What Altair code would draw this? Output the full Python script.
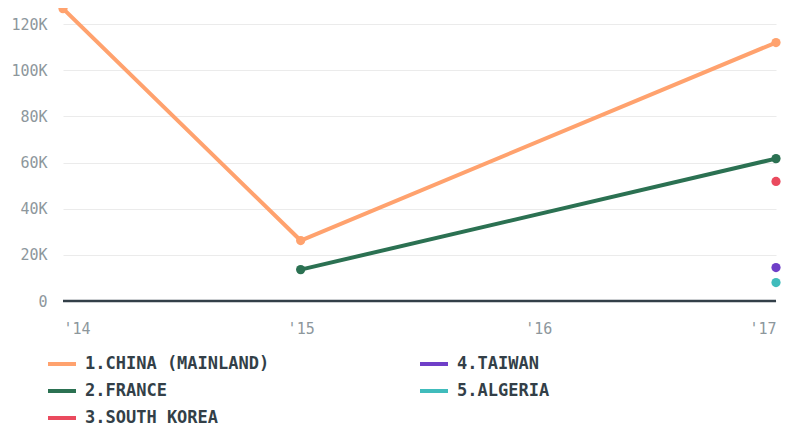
import altair as alt
import pandas as pd

# Data
series_names = ["1.CHINA (MAINLAND)", "2.FRANCE", "3.SOUTH KOREA", "4.TAIWAN", "5.ALGERIA"]
series_colors = ["#ffa26e", "#2b7152", "#ea4a5e", "#6f3fc8", "#40bcbc"]

china_years = [2014, 2015, 2017]
china_values = [126700, 26200, 112000]
france_years = [2015, 2017]
france_values = [13600, 61700]
korea_years = [2017]
korea_values = [51800]
taiwan_years = [2017]
taiwan_values = [14500]
algeria_years = [2017]
algeria_values = [8000]

x_ticks = [2014, 2015, 2016, 2017]
y_ticks = [0, 20000, 40000, 60000, 80000, 100000, 120000]

rows = []
for name, ys, vs in [
    (series_names[0], china_years, china_values),
    (series_names[1], france_years, france_values),
    (series_names[2], korea_years, korea_values),
    (series_names[3], taiwan_years, taiwan_values),
    (series_names[4], algeria_years, algeria_values),
]:
    for y, v in zip(ys, vs):
        rows.append({"series": name, "year": y, "value": v})
df = pd.DataFrame(rows)

color = alt.Color(
    "series:N",
    scale=alt.Scale(domain=series_names, range=series_colors),
    legend=alt.Legend(
        title=None,
        orient="none",
        legendX=-17,
        legendY=335,
        columns=2,
        columnPadding=142,
        rowPadding=3,
        symbolType="stroke",
        symbolStrokeWidth=4,
        symbolSize=784,
        labelFont="DejaVu Sans Mono",
        labelFontSize=17,
        labelFontWeight="bold",
        labelColor="#333f48",
        labelOffset=7,
        labelLimit=400,
    ),
)

x = alt.X(
    "year:Q",
    scale=alt.Scale(domain=[2014, 2017], nice=False, zero=False),
    axis=alt.Axis(
        title=None,
        values=x_ticks,
        format="d",
        labelExpr="\"'\" + substring(datum.label, 2, 4)",
        grid=False,
        ticks=False,
        domain=False,
        labelPadding=20,
        labelFont="DejaVu Sans Mono",
        labelFontSize=15,
        labelColor="#8d979c",
    ),
)
y = alt.Y(
    "value:Q",
    scale=alt.Scale(domain=[0, 124800], nice=False),
    axis=alt.Axis(
        title=None,
        values=y_ticks,
        labelExpr="datum.value == 0 ? '0' : (datum.value / 1000) + 'K'",
        grid=True,
        gridColor="#ebebeb",
        gridWidth=1,
        ticks=False,
        domain=False,
        labelPadding=16,
        labelFont="DejaVu Sans Mono",
        labelFontSize=15,
        labelColor="#8d979c",
    ),
)

base = alt.Chart(df)
lines = base.mark_line(strokeWidth=4).encode(x=x, y=y, color=color, detail="series:N")
points = base.mark_circle(size=85, opacity=1).encode(x=x, y=y, color=color)
zero = alt.Chart(pd.DataFrame({"v": [0]})).mark_rule(color="#333f48", strokeWidth=2.5).encode(y="v:Q")

chart = (
    alt.layer(zero, lines, points)
    .properties(width=713, height=288, padding={"left": 55, "top": 5, "right": 5, "bottom": 124},
                autosize=alt.AutoSizeParams(type="none"))
    .configure_view(stroke=None)
)

chart.save("out.html", embed_options={"renderer": "svg", "actions": False})
